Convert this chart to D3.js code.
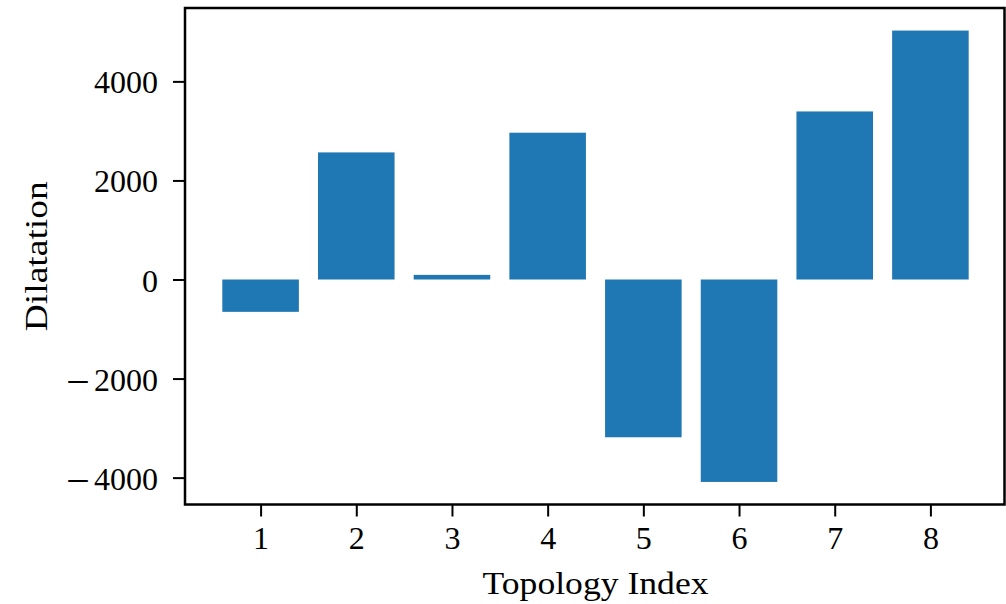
<!DOCTYPE html>
<html><head><meta charset="utf-8">
<script src="https://cdn.jsdelivr.net/npm/d3@7"></script>
<style>body{margin:0;background:#fff}svg{display:block}</style>
</head><body>
<svg id="c" width="1006" height="604"></svg>
<script>
const categories = [1, 2, 3, 4, 5, 6, 7, 8];
const values = [-653, 2566, 93, 2964, -3185, -4087, 3393, 5026];
const yTicks = [-4000, -2000, 0, 2000, 4000];
const xLabel = "Topology Index";
const yLabel = "Dilatation";

const W = 1006, H = 604;
const m = {left: 185, right: 1006, top: 8, bottom: 504.5};
const svg = d3.select("#c");
const font = "'Liberation Serif', 'DejaVu Serif', serif";

const x = d3.scaleLinear().domain([0.21, 8.79]).range([m.left, m.right]);
const ymin = d3.min(values), ymax = d3.max(values);
const pad = (ymax - ymin) * 0.05;
const y = d3.scaleLinear().domain([ymin - pad, ymax + pad]).range([m.bottom, m.top]);
const bw = 0.8;

svg.append("g").selectAll("rect").data(categories).join("rect")
  .attr("x", (d) => x(d - bw / 2))
  .attr("width", (d) => x(d + bw / 2) - x(d - bw / 2))
  .attr("y", (d, i) => y(Math.max(0, values[i])))
  .attr("height", (d, i) => Math.abs(y(values[i]) - y(0)))
  .attr("fill", "#1f77b4");

const xAxis = svg.append("g").attr("transform", `translate(0,${m.bottom})`)
  .call(d3.axisBottom(x).tickValues(categories).tickSize(12).tickPadding(10).tickFormat(d3.format("d")));
const yAxis = svg.append("g").attr("transform", `translate(${m.left},0)`)
  .call(d3.axisLeft(y).tickValues(yTicks).tickSize(12).tickPadding(15).tickFormat(() => ""));
[xAxis, yAxis].forEach(g => {
  g.select(".domain").remove();
  g.selectAll(".tick line").attr("stroke", "#000").attr("stroke-width", 2);
  g.selectAll(".tick text").attr("font-family", font).attr("font-size", 32).attr("fill", "#000");
});
xAxis.selectAll(".tick text").attr("dy", "0.71em");
yAxis.selectAll(".tick text").attr("dy", "0.36em").each(function(v) {
  const t = d3.select(this);
  if (v < 0) {
    t.append("tspan").attr("font-size", 38).text("\u2013");
    t.append("tspan").text("\u2009" + Math.abs(v));
  } else {
    t.text(String(v));
  }
});

svg.append("rect").attr("x", m.left).attr("y", m.top)
  .attr("width", m.right - m.left - 1.5).attr("height", m.bottom - m.top)
  .attr("fill", "none").attr("stroke", "#000").attr("stroke-width", 2.5);

svg.append("text").attr("x", (m.left + m.right) / 2).attr("y", 593.5)
  .attr("text-anchor", "middle").attr("font-family", font).attr("font-size", 31)
  .attr("textLength", 226).attr("lengthAdjust", "spacingAndGlyphs")
  .text(xLabel);
svg.append("text").attr("transform", `translate(46.5,${(m.top + m.bottom) / 2}) rotate(-90)`)
  .attr("text-anchor", "middle").attr("font-family", font).attr("font-size", 31)
  .attr("textLength", 150).attr("lengthAdjust", "spacingAndGlyphs")
  .text(yLabel);
</script>
</body></html>
